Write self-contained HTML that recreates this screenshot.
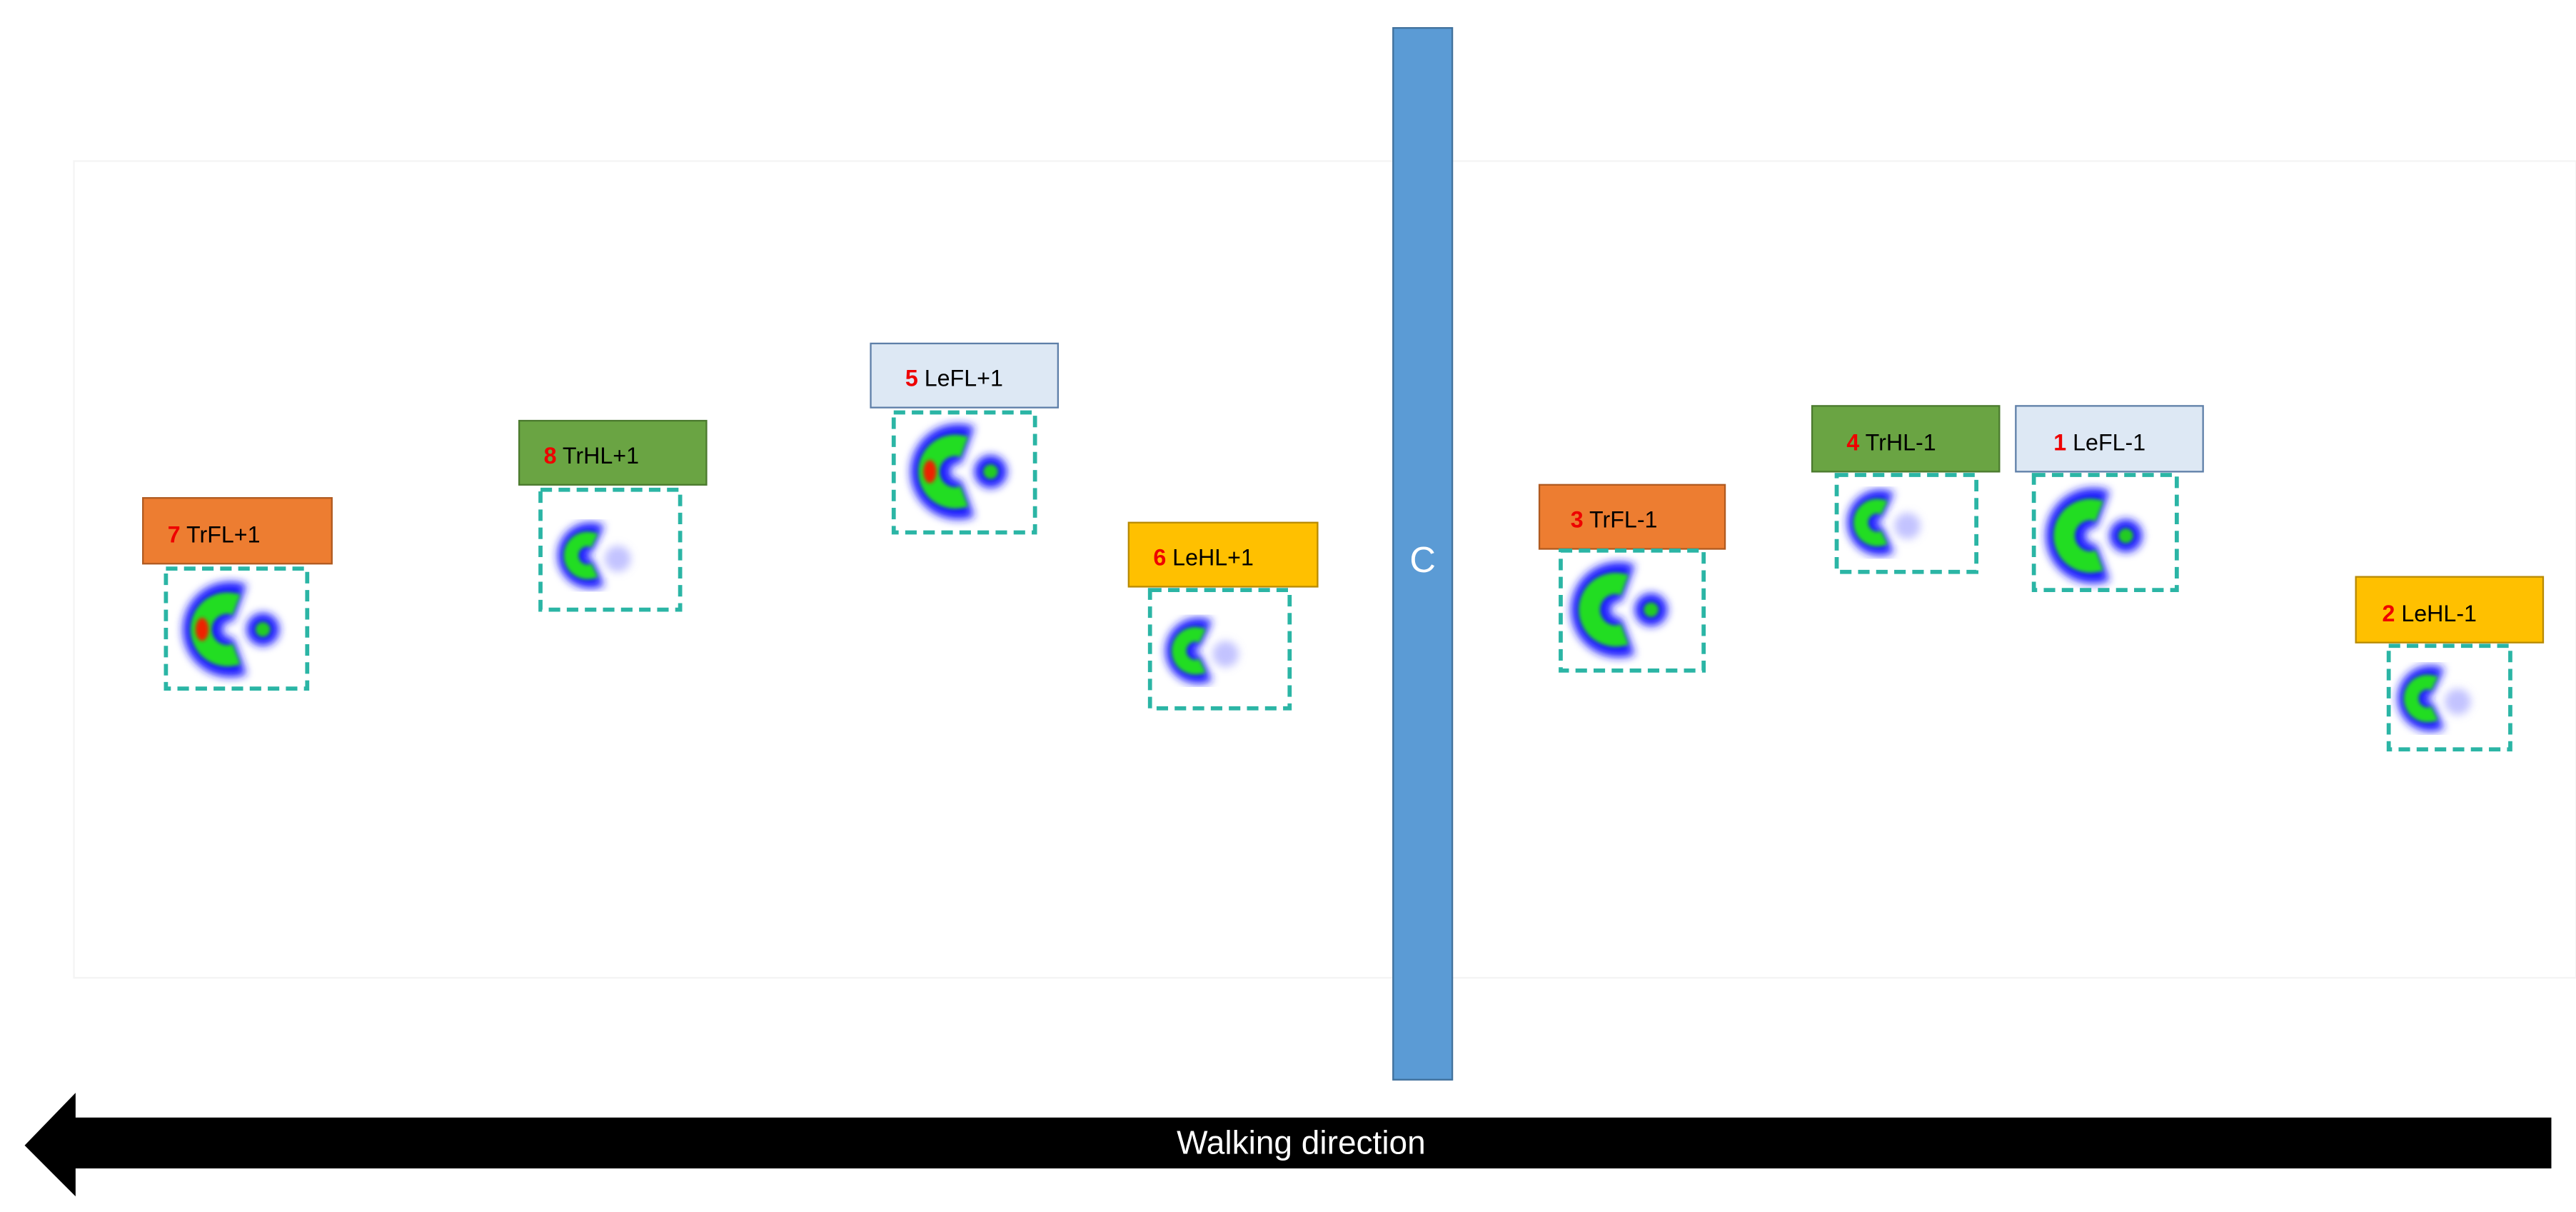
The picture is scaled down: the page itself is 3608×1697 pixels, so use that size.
<!DOCTYPE html>
<html><head><meta charset="utf-8"><style>
html,body{margin:0;padding:0;background:#fff;}
svg{display:block;}
text{font-family:"Liberation Sans",sans-serif;}
</style></head><body>
<svg width="3608" height="1697" viewBox="0 0 1568 737.5" xmlns="http://www.w3.org/2000/svg">
<defs>
<filter id="b" x="-50%" y="-50%" width="200%" height="200%"><feGaussianBlur stdDeviation="2.5"/></filter>
<filter id="b2" x="-50%" y="-50%" width="200%" height="200%"><feGaussianBlur stdDeviation="1.2"/></filter>
<g id="fl">
 <g filter="url(#b)">
  <path d="M 6 -16 A 17 17 0 1 0 6 16" fill="none" stroke="#1a1aff" stroke-width="24"/>
  <circle cx="20" cy="0" r="10" fill="#1a1aff"/>
 </g>
 <g filter="url(#b2)">
  <path d="M 4 -15 A 16 16 0 1 0 4 15" fill="none" stroke="#22dd22" stroke-width="13"/>
  <circle cx="20" cy="0" r="4.5" fill="#22cc22"/>
 </g>
</g>
<g id="flr">
 <use href="#fl"/>
 <ellipse cx="-17" cy="0" rx="4" ry="7" fill="#ee2200" filter="url(#b2)"/>
</g>
<g id="hl">
 <g filter="url(#b)">
  <circle cx="16" cy="2" r="8" fill="#8888ff" opacity="0.5"/>
  <path d="M 4 -10 A 11 11 0 1 0 4 10" fill="none" stroke="#1a1aff" stroke-width="18"/>
 </g>
 <path d="M 2 -9 A 10 10 0 1 0 2 9" fill="none" stroke="#22dd22" stroke-width="9" filter="url(#b2)"/>
</g>
</defs>
<rect x="45" y="98" width="1523" height="497" fill="#fff" stroke="#f4f4f4" stroke-width="1"/>

<rect x="87" y="303" width="115" height="40" fill="#ed7d31" stroke="#b05a20"/>
<text x="102" y="330" font-size="14"><tspan fill="#e00" font-weight="bold">7</tspan> TrFL+1</text>
<use href="#flr" x="140" y="383"/>
<rect x="101" y="346" width="86" height="73" fill="none" stroke="#2bb5a5" stroke-width="2.5" stroke-dasharray="7,4"/>

<rect x="316" y="256" width="114" height="39" fill="#6aa443" stroke="#4b7a2e"/>
<text x="331" y="282" font-size="14"><tspan fill="#e00" font-weight="bold">8</tspan> TrHL+1</text>
<use href="#hl" x="360" y="338"/>
<rect x="329" y="298" width="85" height="73" fill="none" stroke="#2bb5a5" stroke-width="2.5" stroke-dasharray="7,4"/>

<rect x="530" y="209" width="114" height="39" fill="#dde8f4" stroke="#5e7fa8"/>
<text x="551" y="235" font-size="14"><tspan fill="#e00" font-weight="bold">5</tspan> LeFL+1</text>
<use href="#flr" x="583" y="287"/>
<rect x="544" y="251" width="86" height="73" fill="none" stroke="#2bb5a5" stroke-width="2.5" stroke-dasharray="7,4"/>

<rect x="687" y="318" width="115" height="39" fill="#ffc000" stroke="#b88a00"/>
<text x="702" y="344" font-size="14"><tspan fill="#e00" font-weight="bold">6</tspan> LeHL+1</text>
<use href="#hl" x="730" y="396"/>
<rect x="700" y="359" width="85" height="72" fill="none" stroke="#2bb5a5" stroke-width="2.5" stroke-dasharray="7,4"/>

<rect x="848" y="17" width="36" height="640" fill="#5b9bd5" stroke="#41719c"/>
<text x="866" y="348" font-size="22" fill="#fff" text-anchor="middle">C</text>

<rect x="937" y="295" width="113" height="39" fill="#ed7d31" stroke="#b05a20"/>
<text x="956" y="321" font-size="14"><tspan fill="#e00" font-weight="bold">3</tspan> TrFL-1</text>
<use href="#fl" x="985" y="371"/>
<rect x="950" y="335" width="87" height="73" fill="none" stroke="#2bb5a5" stroke-width="2.5" stroke-dasharray="7,4"/>

<rect x="1103" y="247" width="114" height="40" fill="#6aa443" stroke="#4b7a2e"/>
<text x="1124" y="274" font-size="14"><tspan fill="#e00" font-weight="bold">4</tspan> TrHL-1</text>
<use href="#hl" x="1145" y="318"/>
<rect x="1118" y="289" width="85" height="59" fill="none" stroke="#2bb5a5" stroke-width="2.5" stroke-dasharray="7,4"/>

<rect x="1227" y="247" width="114" height="40" fill="#dde8f4" stroke="#5e7fa8"/>
<text x="1250" y="274" font-size="14"><tspan fill="#e00" font-weight="bold">1</tspan> LeFL-1</text>
<use href="#fl" x="1274" y="326"/>
<rect x="1238" y="289" width="87" height="70" fill="none" stroke="#2bb5a5" stroke-width="2.5" stroke-dasharray="7,4"/>

<rect x="1434" y="351" width="114" height="40" fill="#ffc000" stroke="#b88a00"/>
<text x="1450" y="378" font-size="14"><tspan fill="#e00" font-weight="bold">2</tspan> LeHL-1</text>
<use href="#hl" x="1480" y="425"/>
<rect x="1454" y="393" width="74" height="63" fill="none" stroke="#2bb5a5" stroke-width="2.5" stroke-dasharray="7,4"/>

<polygon points="15,697 46,665 46,680 1553,680 1553,711 46,711 46,728" fill="#000"/>
<text x="792" y="702" font-size="20" fill="#fff" text-anchor="middle">Walking direction</text>
</svg>
</body></html>
